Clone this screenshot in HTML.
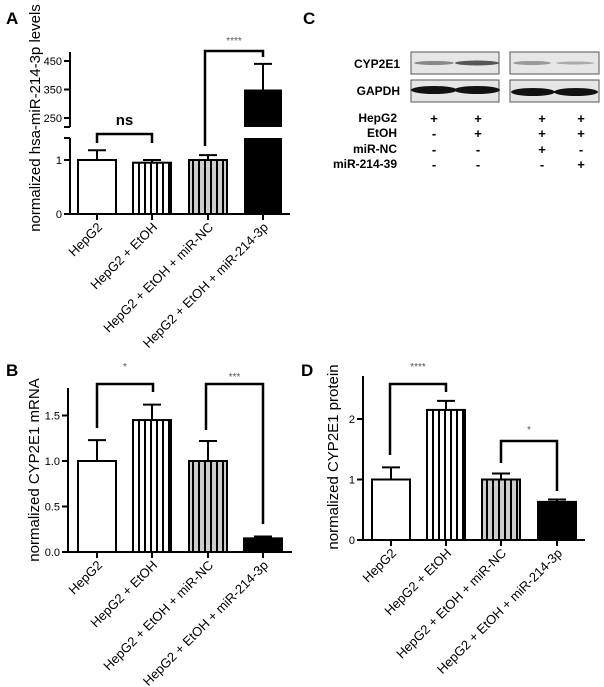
<!DOCTYPE html>
<html><head><meta charset="utf-8"><style>
body{margin:0;background:#fff;width:604px;height:687px;overflow:hidden}
svg{display:block;font-family:"Liberation Sans",Arial,sans-serif}
</style></head><body>
<svg id="fig" width="604" height="687" viewBox="0 0 604 687">
<defs>
<pattern id="vstripe" width="6" height="10" patternUnits="userSpaceOnUse"><rect width="6" height="10" fill="#fff"/><rect x="0" width="2" height="10" fill="#000"/></pattern>
<pattern id="gstripe" width="6" height="10" patternUnits="userSpaceOnUse"><rect width="6" height="10" fill="#ccc"/><rect x="0" width="2" height="10" fill="#000"/></pattern>
</defs>
<text x="6" y="24" font-size="17" font-weight="bold">A</text>
<text x="6" y="376" font-size="17" font-weight="bold">B</text>
<text x="303" y="24" font-size="17" font-weight="bold">C</text>
<text x="301" y="376" font-size="17" font-weight="bold">D</text>

<g>
<text x="400" y="68" font-size="12" font-weight="bold" text-anchor="end">CYP2E1</text>
<text x="400" y="95" font-size="12" font-weight="bold" text-anchor="end">GAPDH</text>
<rect x="411" y="52" width="88" height="22" fill="#e6e6e6" stroke="#555"/>
<rect x="510" y="52" width="89" height="22" fill="#e6e6e6" stroke="#555"/>
<rect x="411" y="80" width="88" height="22" fill="#e6e6e6" stroke="#555"/>
<rect x="510" y="80" width="89" height="22" fill="#e6e6e6" stroke="#555"/>
<ellipse cx="434" cy="63" rx="20" ry="2" fill="#888"/>
<ellipse cx="477" cy="63" rx="22" ry="2.5" fill="#555"/>
<ellipse cx="532" cy="63" rx="19" ry="2" fill="#999"/>
<ellipse cx="575" cy="63" rx="19" ry="1.5" fill="#aaa"/>
<ellipse cx="434" cy="90" rx="23" ry="4" fill="#111"/>
<ellipse cx="477" cy="90" rx="23" ry="4" fill="#111"/>
<ellipse cx="533" cy="92" rx="22" ry="4" fill="#111"/>
<ellipse cx="576" cy="92" rx="22" ry="4" fill="#111"/>
<g font-size="12" font-weight="bold" text-anchor="end">
<text x="397" y="122">HepG2</text>
<text x="397" y="137">EtOH</text>
<text x="397" y="153">miR-NC</text>
<text x="397" y="168">miR-214-39</text>
</g>
<g font-size="13" font-weight="bold" text-anchor="middle" id="signs"></g>
</g>
<g id="chartA"></g>
<g id="chartB"></g>
<g id="chartD"></g>
</svg>
<script>
const categories = ["HepG2","HepG2 + EtOH","HepG2 + EtOH + miR-NC","HepG2 + EtOH + miR-214-3p"];
const fills = ["#fff","url(#vstripe)","url(#gstripe)","#000"];
const aValues = [1.0, 0.95, 1.0, 350];
const aErrors = [1.18, 1.0, 1.09, 440];
const aLowTicks = [0, 1];
const aHighTicks = [250, 350, 450];
const bValues = [1.0, 1.45, 1.0, 0.15];
const bErrors = [1.23, 1.62, 1.22, 0.17];
const bTicks = ["0.0","0.5","1.0","1.5"];
const dValues = [1.0, 2.15, 1.0, 0.63];
const dErrors = [1.2, 2.3, 1.1, 0.67];
const dTicks = ["0","1","2"];
const signRows = [["+","+","+","+"],["-","+","+","+"],["-","-","+","-"],["-","-","-","+"]];

const NS="http://www.w3.org/2000/svg";
function mk(parent,tag,attrs,name){const e=document.createElementNS(NS,tag);for(const k in attrs)e.setAttribute(k,attrs[k]);parent.appendChild(e);


return e;}

const sg=document.getElementById('signs');const sx=[434,478,542,581];const sy=[123,138,154,169];
signRows.forEach((r,i)=>r.forEach((s,j)=>{const t=mk(sg,'text',{x:sx[j],y:sy[i]},'sign-cell');t.textContent=s;}));

function drawBars(g,xs,bw,vals,errs,y,base){
  vals.forEach((v,i)=>{
    const x=xs[i];
    mk(g,'line',{x1:x,x2:x,y1:y(v),y2:y(errs[i]),stroke:'#000','stroke-width':2},'error-bar');
    mk(g,'line',{x1:x-9,x2:x+9,y1:y(errs[i]),y2:y(errs[i]),stroke:'#000','stroke-width':2},'error-cap');
    mk(g,'rect',{x:x-bw/2,y:y(v),width:bw,height:base-y(v),fill:fills[i],stroke:'#000','stroke-width':2},'bar-'+(i+1));
  });
}
function xLabels(g,xs,yy,fs){categories.forEach((c,i)=>{const ax=xs[i]+6;const t=mk(g,'text',{x:ax,y:yy,'font-size':fs,'text-anchor':'end',transform:`rotate(-45 ${ax} ${yy})`},'x-label');t.textContent=c;});}
function bracket(g,x1,x2,yb,l1,l2,label,ly,fs){
  mk(g,'polyline',{points:`${x1},${l1} ${x1},${yb} ${x2},${yb} ${x2},${l2}`,fill:'none',stroke:'#000','stroke-width':2.5},'significance-bracket');
  const t=mk(g,'text',{x:(x1+x2)/2,y:ly,'font-size':fs,'text-anchor':'middle',fill:label==='ns'?'#000':'#555','font-weight':label==='ns'?'bold':'normal'},'significance-label');t.textContent=label;
}
function yTitle(g,x,y,txt,fs){const t=mk(g,'text',{x:x,y:y,'font-size':fs,'text-anchor':'middle',transform:`rotate(-90 ${x} ${y})`},'y-axis-title');t.textContent=txt;}
function tickLabel(g,x,y,s){const t=mk(g,'text',{x:x,y:y+4,'font-size':11,'text-anchor':'end'},'y-tick-label');t.textContent=s;}

// Chart A
(function(){
  const g=document.getElementById('chartA');const xs=[97,152,208,263];const ax=70;
  const yl=v=>214-v*54; const yh=v=>118-(v-250)*0.285;
  mk(g,'line',{x1:ax,x2:ax,y1:214,y2:138,stroke:'#000','stroke-width':2},'y-axis-lower');
  mk(g,'line',{x1:ax,x2:ax,y1:127,y2:52,stroke:'#000','stroke-width':2},'y-axis-upper');
  mk(g,'line',{x1:ax-6,x2:ax,y1:138,y2:138,stroke:'#000','stroke-width':2},'axis-break');
  mk(g,'line',{x1:ax-6,x2:ax,y1:127,y2:127,stroke:'#000','stroke-width':2},'axis-break');
  mk(g,'line',{x1:ax,x2:290,y1:214,y2:214,stroke:'#000','stroke-width':2},'x-axis');
  aLowTicks.forEach(v=>{mk(g,'line',{x1:ax-6,x2:ax,y1:yl(v),y2:yl(v),stroke:'#000','stroke-width':2},'y-tick');tickLabel(g,ax-8,yl(v),v);});
  aHighTicks.forEach(v=>{mk(g,'line',{x1:ax-6,x2:ax,y1:yh(v),y2:yh(v),stroke:'#000','stroke-width':2},'y-tick');tickLabel(g,ax-8,yh(v),v);});
  xs.forEach(x=>mk(g,'line',{x1:x,x2:x,y1:214,y2:220,stroke:'#000','stroke-width':2},'x-tick'));
  const bw=38;
  for(let i=0;i<3;i++){
    const x=xs[i];
    mk(g,'line',{x1:x,x2:x,y1:yl(aValues[i]),y2:yl(aErrors[i]),stroke:'#000','stroke-width':2},'error-bar');
    mk(g,'line',{x1:x-9,x2:x+9,y1:yl(aErrors[i]),y2:yl(aErrors[i]),stroke:'#000','stroke-width':2},'error-cap');
    mk(g,'rect',{x:x-bw/2,y:yl(aValues[i]),width:bw,height:214-yl(aValues[i]),fill:fills[i],stroke:'#000','stroke-width':2},'bar-'+(i+1));
  }
  const x=xs[3];
  mk(g,'line',{x1:x,x2:x,y1:yh(aValues[3]),y2:yh(aErrors[3]),stroke:'#000','stroke-width':2},'error-bar');
  mk(g,'line',{x1:x-9,x2:x+9,y1:yh(aErrors[3]),y2:yh(aErrors[3]),stroke:'#000','stroke-width':2},'error-cap');
  mk(g,'rect',{x:x-bw/2,y:yh(aValues[3]),width:bw,height:127-yh(aValues[3]),fill:'#000'},'bar-4-upper');
  mk(g,'rect',{x:x-bw/2,y:138,width:bw,height:76,fill:'#000'},'bar-4-lower');
  bracket(g,97,152,134,143,143,'ns',125,15);
  bracket(g,205,263,51,146,57,'****',44,10);
  xLabels(g,xs,228,13);
  yTitle(g,40,118,'normalized hsa-miR-214-3p levels',15);
})();

// Chart B
(function(){
  const g=document.getElementById('chartB');const xs=[97,152,208,263];const ax=68;const base=552;
  const y=v=>base-v*91;
  mk(g,'line',{x1:ax,x2:ax,y1:base,y2:388,stroke:'#000','stroke-width':2},'y-axis');
  mk(g,'line',{x1:ax,x2:292,y1:base,y2:base,stroke:'#000','stroke-width':2},'x-axis');
  bTicks.forEach(s=>{const v=parseFloat(s);mk(g,'line',{x1:ax-6,x2:ax,y1:y(v),y2:y(v),stroke:'#000','stroke-width':2},'y-tick');tickLabel(g,ax-8,y(v),s);});
  xs.forEach(x=>mk(g,'line',{x1:x,x2:x,y1:base,y2:base+6,stroke:'#000','stroke-width':2},'x-tick'));
  drawBars(g,xs,38,bValues,bErrors,y,base);
  bracket(g,97,153,384,428,392,'*',370,10);
  bracket(g,206,263,384,430,524,'***',380,10);
  xLabels(g,xs,566,13);
  yTitle(g,39,470,'normalized CYP2E1 mRNA',15);
})();

// Chart D
(function(){
  const g=document.getElementById('chartD');const xs=[391,446,501,557];const ax=363;const base=540;
  const y=v=>base-v*60.5;
  mk(g,'line',{x1:ax,x2:ax,y1:base,y2:376,stroke:'#000','stroke-width':2},'y-axis');
  mk(g,'line',{x1:ax,x2:585,y1:base,y2:base,stroke:'#000','stroke-width':2},'x-axis');
  dTicks.forEach(s=>{const v=parseFloat(s);mk(g,'line',{x1:ax-6,x2:ax,y1:y(v),y2:y(v),stroke:'#000','stroke-width':2},'y-tick');tickLabel(g,ax-8,y(v),s);});
  xs.forEach(x=>mk(g,'line',{x1:x,x2:x,y1:base,y2:base+6,stroke:'#000','stroke-width':2},'x-tick'));
  drawBars(g,xs,38,dValues,dErrors,y,base);
  bracket(g,390,446,384,455,392,'****',370,10);
  bracket(g,501,557,441,463,491,'*',433,10);
  xLabels(g,xs,554,13);
  yTitle(g,338,457,'normalized CYP2E1 protein',15);
})();
</script>
</body></html>
